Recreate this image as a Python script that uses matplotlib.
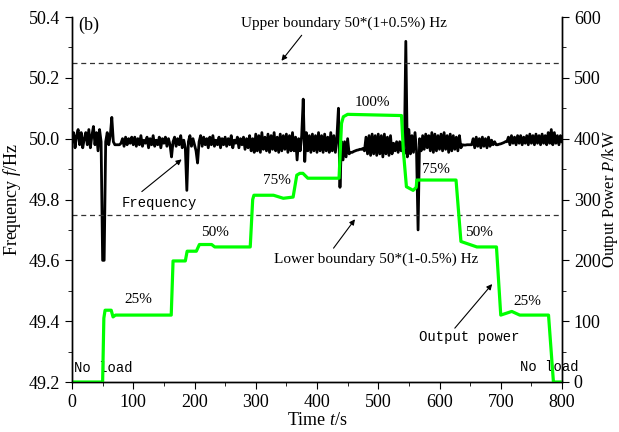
import numpy as np
import matplotlib
matplotlib.use("Agg")
import matplotlib.pyplot as plt
from matplotlib.ticker import MultipleLocator

plt.rcParams['font.family'] = 'Liberation Serif'
plt.rcParams['mathtext.fontset'] = 'custom'
plt.rcParams['mathtext.it'] = 'Liberation Serif:italic'
plt.rcParams['mathtext.rm'] = 'Liberation Serif'

# frequency samples, one every 2.5 s from 0 to 800 s (Hz)
freq_time = np.arange(0, 800.1, 2.5)
freq_hz = [
    49.99, 50.02, 49.97, 50.01, 50.03, 49.98, 50.02, 49.97, 50.00, 50.02, 49.98, 50.03, 49.97, 50.01, 50.04, 49.98, 50.02, 49.96, 50.03, 49.99,
    49.60, 49.60, 49.99, 50.02, 49.98, 50.01, 50.07, 49.99, 49.98, 49.98, 49.98, 49.98, 49.985, 50.0, 49.975, 50.005, 49.98, 50.0, 49.985, 50.005,
    49.98, 50.005, 49.975, 50.0, 49.98, 50.01, 49.975, 49.995, 49.985, 50.005, 49.97, 50.0, 49.98, 50.01, 49.975, 49.995, 49.98, 50.005, 49.97, 50.0,
    49.985, 50.005, 49.975, 50.0, 49.98, 49.94, 49.99, 50.005, 49.975, 50.0, 49.98, 50.01, 49.97, 49.995, 49.97, 49.83, 49.99, 50.01, 49.975, 50.0,
    49.98, 49.96, 49.92, 49.99, 50.01, 49.975, 50.005, 49.98, 50.0, 49.97, 50.005, 49.98, 50.01, 49.975, 49.995, 49.98, 50.005, 49.97, 50.0, 49.98,
    50.005, 49.975, 50.0, 49.98, 50.01, 49.97, 49.995, 49.985, 50.005, 49.97, 50.0, 49.98, 50.005, 49.965, 50.0, 49.97, 50.01, 49.96, 50.0, 49.955,
    50.015, 49.96, 50.01, 49.955, 50.02, 49.965, 50.005, 49.96, 50.015, 49.955, 50.01, 49.965, 50.02, 49.96, 50.005, 49.955, 50.015, 49.96, 50.01, 49.965,
    50.015, 49.955, 50.01, 49.96, 50.02, 49.96, 50.005, 49.93, 50.0, 49.96, 50.01, 50.13, 49.925, 50.02, 49.96, 50.01, 49.955, 50.015, 49.96, 50.01,
    49.955, 50.02, 49.96, 50.01, 49.955, 50.015, 49.96, 50.005, 49.955, 50.02, 49.96, 50.01, 49.955, 50.005, 50.10, 49.84, 49.99, 49.93, 49.99, 49.94,
    50.0, 49.95, 49.955, 49.955, 49.958, 49.96, 49.962, 49.963, 49.965, 49.965, 49.968, 49.96, 50.005, 49.95, 50.01, 49.945, 50.015, 49.95, 50.01, 49.945,
    50.015, 49.95, 50.01, 49.94, 50.015, 49.95, 50.005, 49.945, 50.01, 49.95, 49.985, 49.96, 49.99, 49.955, 49.99, 49.96, 49.99, 49.95, 50.32, 49.94,
    50.03, 49.95, 50.01, 49.955, 50.02, 49.96, 49.70, 50.0, 49.96, 50.01, 49.965, 50.015, 49.97, 50.01, 49.96, 50.02, 49.955, 50.015, 49.96, 50.01,
    49.965, 50.015, 49.96, 50.02, 49.965, 50.01, 49.955, 50.015, 49.96, 50.01, 49.965, 50.005, 49.96, 50.01, 49.97, 49.98, 49.979, 49.979, 49.98, 49.98,
    49.98, 49.98, 50.0, 49.97, 50.005, 49.975, 50.0, 49.97, 50.005, 49.975, 50.0, 49.97, 50.005, 49.975, 49.995, 49.98, 49.99, 49.98, 49.98, 49.982,
    49.983, 49.985, 49.987, 49.99, 49.99, 50.005, 49.98, 50.01, 49.985, 50.005, 49.98, 50.01, 49.985, 50.01, 49.98, 50.005, 49.985, 50.01, 49.98, 50.015,
    49.985, 50.01, 49.98, 50.015, 49.985, 50.01, 49.98, 50.015, 49.985, 50.01, 49.98, 50.02, 49.985, 50.03, 49.98, 50.02, 49.985, 50.01, 49.98, 50.01,
    49.99,
]

# output power breakpoints (s, kW)
power_time = [0, 50, 52, 54, 64, 67, 71, 162, 165, 185, 188, 203, 208, 228, 233, 291, 295, 297, 329, 345,
              361, 367, 372, 377, 385, 436, 440, 443, 450, 538, 541, 546, 557, 562, 563, 627, 635, 661,
              693, 700, 718, 731, 778, 786, 797]
power_kw = [0, 0, 105, 118, 118, 107, 110, 110, 199, 199, 215, 215, 226, 226, 222, 222, 300, 307, 307, 302,
            304, 340, 343, 343, 335, 335, 425, 436, 440, 438, 380, 321, 315, 320, 332, 332, 231, 222,
            222, 110, 116, 110, 110, 0, 0]

upper_limit = 50 * (1 + 0.005)
lower_limit = 50 * (1 - 0.005)

fig = plt.figure(figsize=(6.19, 4.32), dpi=100)
ax = fig.add_axes([72/619, 50/432, 490/619, 365/432])
ax2 = ax.twinx()

ax.plot(freq_time, freq_hz, color='black', lw=2.0)
ax.axhline(upper_limit, color='#333333', lw=0.9, ls=(0, (4, 3)))
ax.axhline(lower_limit, color='#333333', lw=0.9, ls=(0, (4, 3)))
ax2.plot(power_time, power_kw, color='#00ff00', lw=2.3)

ax.set_xlim(0, 800)
ax.set_ylim(49.2, 50.4)
ax2.set_ylim(0, 600)
ax.xaxis.set_major_locator(MultipleLocator(100))
ax.xaxis.set_minor_locator(MultipleLocator(50))
ax.yaxis.set_major_locator(MultipleLocator(0.2))
ax.yaxis.set_minor_locator(MultipleLocator(0.1))
ax2.yaxis.set_major_locator(MultipleLocator(100))
ax2.yaxis.set_minor_locator(MultipleLocator(50))
ax.yaxis.set_major_formatter(plt.FormatStrFormatter('%.1f'))

for a in (ax, ax2):
    a.spines['top'].set_visible(False)
    for s in a.spines.values():
        s.set_linewidth(1.0)
    a.tick_params(which='both', direction='out', labelsize=13)
    a.tick_params(which='major', length=5)
    a.tick_params(which='minor', length=3)

ax.set_xlabel('Time $t$/s', fontsize=13, labelpad=1)
ax.set_ylabel('Frequency $f$/Hz', fontsize=13, labelpad=4)
ax2.set_ylabel('Output Power $P$/kW', fontsize=12)
ax2.yaxis.set_label_coords(1.078, 0.5)

mono = 'Liberation Mono'
arw = dict(arrowstyle='-|>', color='black', lw=0.8, mutation_scale=8, shrinkA=0, shrinkB=0)

ax.text(10, 50.372, '(b)', fontsize=13, va='center')
ax.text(444, 50.378, 'Upper boundary 50*(1+0.5%) Hz', fontsize=11, ha='center', va='center')
ax.annotate('', xy=(342, 50.256), xytext=(375, 50.34), arrowprops=arw)
ax.text(497, 49.605, 'Lower boundary 50*(1-0.5%) Hz', fontsize=11, ha='center', va='center')
ax.annotate('', xy=(462, 49.735), xytext=(427, 49.64), arrowprops=arw)
ax.text(142, 49.79, 'Frequency', family=mono, fontsize=10, ha='center', va='center')
ax.annotate('', xy=(179, 49.932), xytext=(114, 49.826), arrowprops=arw)
ax.text(648, 49.347, 'Output power', family=mono, fontsize=10, ha='center', va='center')
ax.annotate('', xy=(686, 49.522), xytext=(625, 49.377), arrowprops=arw)
ax.text(3, 49.245, 'No load', family=mono, fontsize=10, ha='left', va='center')
ax.text(780, 49.25, 'No load', family=mono, fontsize=10, ha='center', va='center')

pct_labels = ['25%', '50%', '75%', '100%', '75%', '50%', '25%']
pct_x = [109, 233, 334, 490, 594, 665, 744]
pct_y = [49.47, 49.691, 49.864, 50.12, 49.897, 49.691, 49.464]
for lab, px, py in zip(pct_labels, pct_x, pct_y):
    ax.text(px, py, lab, fontsize=11, ha='center', va='center')

fig.savefig('out.png', dpi=100)
